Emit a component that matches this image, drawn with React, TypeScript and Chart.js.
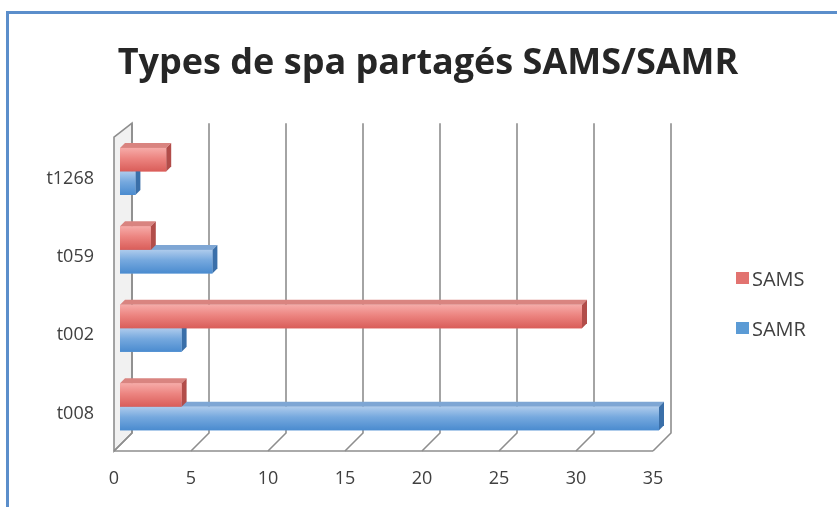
import React, { useEffect, useRef } from "react";
import { Chart, registerables } from "chart.js";

Chart.register(...registerables);

const TITLE = "Types de spa partagés SAMS/SAMR";
const categories = ["t1268", "t059", "t002", "t008"];
const seriesNames = ["SAMS", "SAMR"];
const samsValues = [3, 2, 30, 4];
const samrValues = [1, 6, 4, 35];
const xTicks = [0, 5, 10, 15, 20, 25, 30, 35];

const FONT = "'Open Sans', 'DejaVu Sans', sans-serif";
const RED = { top: "#F6ABA8", mid: "#EC8480", bottom: "#D95D59", face: "#D98480", side: "#B24D4A", legend: "#E27370" };
const BLUE = { top: "#AECBEC", mid: "#75A8DE", bottom: "#4A8BCF", face: "#7EA6D4", side: "#3A6FA9", legend: "#5B9BD5" };
const palettes = [RED, BLUE];

const wallPlugin = {
  id: "wall3d",
  beforeDatasetsDraw(chart: any) {
    const { ctx, chartArea } = chart;
    const xs = chart.scales.x;
    const off = 12;
    const fOff = -6;
    const gridTop = chartArea.top - 9;
    const yBack = chartArea.bottom - 13;
    const yFront = chartArea.bottom + 5;
    ctx.save();
    ctx.strokeStyle = "#8E8E8E";
    ctx.lineWidth = 1.6;
    const x0b = xs.getPixelForValue(xTicks[0]) + off;
    const x0f = xs.getPixelForValue(xTicks[0]) + fOff;
    ctx.fillStyle = "rgba(200,200,200,0.25)";
    ctx.beginPath();
    ctx.moveTo(x0f, gridTop + 14);
    ctx.lineTo(x0b, gridTop);
    ctx.lineTo(x0b, yBack);
    ctx.lineTo(x0f, yFront);
    ctx.closePath();
    ctx.fill();
    ctx.stroke();
    xTicks.forEach((v) => {
      const xb = xs.getPixelForValue(v) + off;
      const xf = xs.getPixelForValue(v) + fOff;
      ctx.beginPath();
      ctx.moveTo(xb, gridTop);
      ctx.lineTo(xb, yBack);
      ctx.lineTo(xf, yFront);
      ctx.stroke();
    });
    ctx.beginPath();
    ctx.moveTo(x0f, yFront);
    ctx.lineTo(xs.getPixelForValue(xTicks[xTicks.length - 1]) + fOff, yFront);
    ctx.stroke();
    ctx.restore();
  },
  afterDatasetsDraw(chart: any) {
    const { ctx } = chart;
    const dx = 5;
    const dy = -5;
    ctx.save();
    for (let d = chart.data.datasets.length - 1; d >= 0; d--) {
      const meta = chart.getDatasetMeta(d);
      const pal = palettes[d];
      meta.data.forEach((el: any) => {
        const { x, y, base, height } = el.getProps(["x", "y", "base", "height"], true);
        const top = y - height / 2;
        const bottom = y + height / 2;
        ctx.fillStyle = pal.face;
        ctx.beginPath();
        ctx.moveTo(base, top);
        ctx.lineTo(x, top);
        ctx.lineTo(x + dx, top + dy);
        ctx.lineTo(base + dx, top + dy);
        ctx.closePath();
        ctx.fill();
        ctx.fillStyle = pal.side;
        ctx.beginPath();
        ctx.moveTo(x, top);
        ctx.lineTo(x + dx, top + dy);
        ctx.lineTo(x + dx, bottom + dy);
        ctx.lineTo(x, bottom);
        ctx.closePath();
        ctx.fill();
        const g = ctx.createLinearGradient(0, top, 0, bottom);
        g.addColorStop(0, pal.top);
        g.addColorStop(0.45, pal.mid);
        g.addColorStop(1, pal.bottom);
        ctx.fillStyle = g;
        ctx.fillRect(base, top, x - base, bottom - top);
      });
    }
    ctx.restore();
  },
};

export default function App() {
  const ref = useRef<HTMLCanvasElement>(null);
  useEffect(() => {
    if (!ref.current) return;
    const chart = new Chart(ref.current, {
      type: "bar",
      data: {
        labels: categories,
        datasets: [
          { label: seriesNames[0], data: samsValues, backgroundColor: RED.mid, categoryPercentage: 0.6, barPercentage: 1 },
          { label: seriesNames[1], data: samrValues, backgroundColor: BLUE.mid, categoryPercentage: 0.6, barPercentage: 1 },
        ],
      },
      options: {
        indexAxis: "y",
        animation: false,
        responsive: false,
        layout: { padding: { left: 19, right: 0, top: 0, bottom: 0 } },
        plugins: {
          legend: { display: false },
          tooltip: { enabled: false },
          title: {
            display: true,
            text: TITLE,
            color: "#262626",
            font: { family: FONT, size: 36, weight: "bold" },
            padding: { top: 42, bottom: 47 },
          },
        },
        scales: {
          x: {
            min: 0,
            max: 35,
            grid: { display: false, drawTicks: false },
            border: { display: false },
            ticks: { stepSize: 5, color: "#404040", font: { family: FONT, size: 18 }, padding: 22, labelOffset: -6 },
            afterFit: (s: any) => { s.height = 61; },
          },
          y: {
            grid: { display: false, drawTicks: false },
            border: { display: false },
            ticks: { color: "#404040", font: { family: FONT, size: 18 }, padding: 26, labelOffset: 7 },
            afterFit: (s: any) => { s.width = 101; },
          },
          yRight: {
            type: "category",
            axis: "y",
            position: "right",
            grid: { display: false, drawTicks: false },
            border: { display: false },
            ticks: { display: false },
            afterFit: (s: any) => { s.width = 178; },
          },
        },
      },
      plugins: [wallPlugin],
    } as any);
    return () => chart.destroy();
  }, []);

  const legendItems = [
    { name: seriesNames[0], color: RED.legend, center: 278 },
    { name: seriesNames[1], color: BLUE.legend, center: 328 },
  ];

  return (
    <div style={{ position: "fixed", left: 0, top: 0, width: 837, height: 507, overflow: "hidden", background: "#fff" }}>
      <div style={{ position: "absolute", left: 6, top: 11, width: 900, height: 600, border: "3px solid #5B8ECB", boxSizing: "border-box" }} />
      <canvas ref={ref} width={837} height={507} style={{ position: "absolute", left: 0, top: 0 }} />
      {legendItems.map((it) => (
        <div key={it.name} style={{ position: "absolute", left: 736, top: it.center - 13, height: 26, display: "flex", alignItems: "center", fontFamily: FONT, fontSize: 20, color: "#404040" }}>
          <span style={{ display: "inline-block", width: 13, height: 12, background: it.color, marginRight: 3 }} />
          <span>{it.name}</span>
        </div>
      ))}
    </div>
  );
}
